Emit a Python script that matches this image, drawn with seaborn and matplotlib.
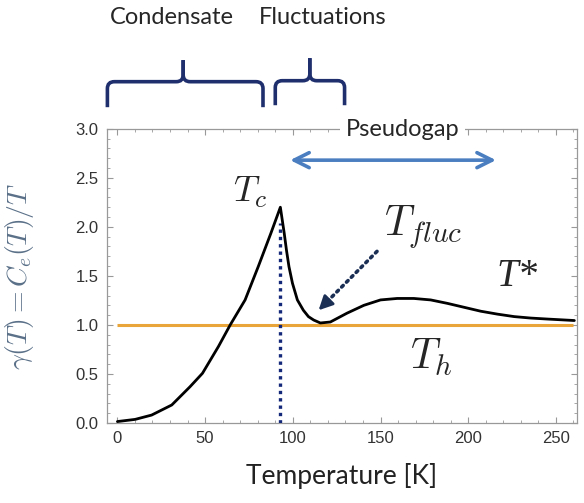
import numpy as np
import pandas as pd
import matplotlib
matplotlib.use("Agg")
import matplotlib.pyplot as plt
from matplotlib.path import Path
from matplotlib.patches import PathPatch
import seaborn as sns

# electronic specific heat coefficient
temperature = [0, 10.1, 19.5, 31.0, 41.4, 48.5, 57.6, 64.3, 72.8, 80.3,
               87.5, 92.9, 95.1, 96.4, 97.8, 99.8, 102.6, 106.0, 108.9,
               111.9, 115.7, 121.4, 130.9, 140.5, 150, 159.5, 169, 178.6,
               188.1, 197.6, 207.1, 216.7, 226.2, 235.7, 245.2, 260.5]
gamma = [0.015, 0.037, 0.081, 0.184, 0.37, 0.507, 0.78, 1.0, 1.255, 1.595,
         1.935, 2.20, 1.935, 1.76, 1.595, 1.425, 1.255, 1.15, 1.085, 1.05,
         1.02, 1.03, 1.12, 1.20, 1.255, 1.27, 1.27, 1.255, 1.22, 1.18, 1.14,
         1.11, 1.085, 1.07, 1.06, 1.045]

t_h_level = 1.0
t_h_range = [0, 260]
t_c = 92.5
t_c_top = 2.04
pseudogap_range = [96.9, 217.4]
pseudogap_level = 2.68
fluc_tip = (114.7, 1.15)
fluc_tail = (148, 1.75)

df = pd.DataFrame({"T": temperature, "gamma": gamma})

sns.set_theme(style="ticks")
plt.rcParams["mathtext.fontset"] = "cm"
plt.rcParams["font.family"] = ["Liberation Sans", "DejaVu Sans"]

fig = plt.figure(figsize=(5.84, 5.03), dpi=100)
ax = fig.add_axes([0.183, 0.159, 0.805, 0.585])

sns.lineplot(data=df, x="T", y="gamma", color="black", lw=2.0, ax=ax, zorder=4)
ax.hlines(t_h_level, t_h_range[0], t_h_range[1], color="#e9a53a", lw=2.2, zorder=3)
ax.vlines(t_c, 0, t_c_top, color="#14287a", lw=2.4, linestyles=(0, (1, 1.2)), zorder=3)

ax.set_xlim(-6, 262)
ax.set_ylim(0, 3.0)
ax.set_xticks([0, 50, 100, 150, 200, 250])
ax.set_yticks([0.0, 0.5, 1.0, 1.5, 2.0, 2.5, 3.0])
ax.set_xticks(np.arange(0, 261, 10), minor=True)
ax.set_yticks(np.arange(0, 3.01, 0.1), minor=True)
ax.set_yticklabels(["0.0", "0.5", "1.0", "1.5", "2.0", "2.5", "3.0"])
ax.tick_params(which="both", direction="in", top=True, right=True,
               color="#999999", labelcolor="#333333", labelsize=12, pad=6)
ax.tick_params(which="major", length=4, width=0.8)
ax.tick_params(which="minor", length=2.5, width=0.6)
for s in ax.spines.values():
    s.set_color("#999999")
    s.set_linewidth(0.9)

ax.set_xlabel("Temperature [K]", fontsize=19, color="#222222", labelpad=12,
              family=["Lato", "DejaVu Sans"])
ax.set_ylabel(r"$\gamma(T) = C_e(T)/T$", fontsize=20, color="#5a7088")
ax.yaxis.set_label_coords(-0.15, 0.5)

# annotations
ax.text(75.7, 2.35, r"$T_c$", fontsize=26, ha="center", va="center")
ax.text(174.6, 2.0, r"$T_{fluc}$", fontsize=30, ha="center", va="center")
ax.text(228, 1.49, "T*", fontsize=28, ha="center", va="center",
        family="Liberation Serif", style="italic")
ax.text(178.6, 0.67, r"$T_h$", fontsize=30, ha="center", va="center")

ax.annotate("", xy=(pseudogap_range[0], pseudogap_level),
            xytext=(pseudogap_range[1], pseudogap_level),
            arrowprops=dict(arrowstyle="<->,head_length=0.9,head_width=0.45",
                            color="#4a7ec0", lw=2.6))

# dotted shaft + solid head for the T_fluc pointer
head_base = (fluc_tip[0] + 0.15 * (fluc_tail[0] - fluc_tip[0]),
             fluc_tip[1] + 0.15 * (fluc_tail[1] - fluc_tip[1]))
ax.annotate("", xy=head_base, xytext=fluc_tail,
            arrowprops=dict(arrowstyle="-", color="#1b2f55", lw=2.6,
                            linestyle=(0, (0.6, 1.3)), shrinkA=0, shrinkB=0))
ax.annotate("", xy=fluc_tip, xytext=head_base,
            arrowprops=dict(arrowstyle="-|>,head_length=0.7,head_width=0.35",
                            color="#1b2f55", lw=2.0, shrinkA=0, shrinkB=0))

ax.text(162.6, 2.99, "Pseudogap", fontsize=17, ha="center", va="center",
        family=["Lato", "DejaVu Sans"], zorder=10, clip_on=False,
        bbox=dict(facecolor="white", edgecolor="none", pad=4))


def brace(x0, x1, xt, yb, ybar, ytop):
    rx, ry = 4.0, 0.07
    for xe, sgn in ((x0, 1), (x1, -1)):
        verts = [(xe, yb), (xe, ybar - ry), (xe, ybar), (xe + sgn * rx, ybar),
                 (xt - sgn * rx, ybar), (xt, ybar), (xt, ybar + ry), (xt, ytop)]
        codes = [Path.MOVETO, Path.LINETO, Path.CURVE3, Path.CURVE3,
                 Path.LINETO, Path.CURVE3, Path.CURVE3, Path.LINETO]
        ax.add_patch(PathPatch(Path(verts, codes), facecolor="none",
                               edgecolor="#1f2f6e", lw=2.6, clip_on=False))


brace(-5.7, 83, 37.5, 3.22, 3.48, 3.70)
brace(90, 129.5, 109.7, 3.24, 3.49, 3.72)

fig.text(0.2945, 0.966, "Condensate", fontsize=17, ha="center", va="center",
         family=["Lato", "DejaVu Sans"])
fig.text(0.553, 0.966, "Fluctuations", fontsize=17, ha="center", va="center",
         family=["Lato", "DejaVu Sans"])

fig.savefig("out.png", dpi=100)
